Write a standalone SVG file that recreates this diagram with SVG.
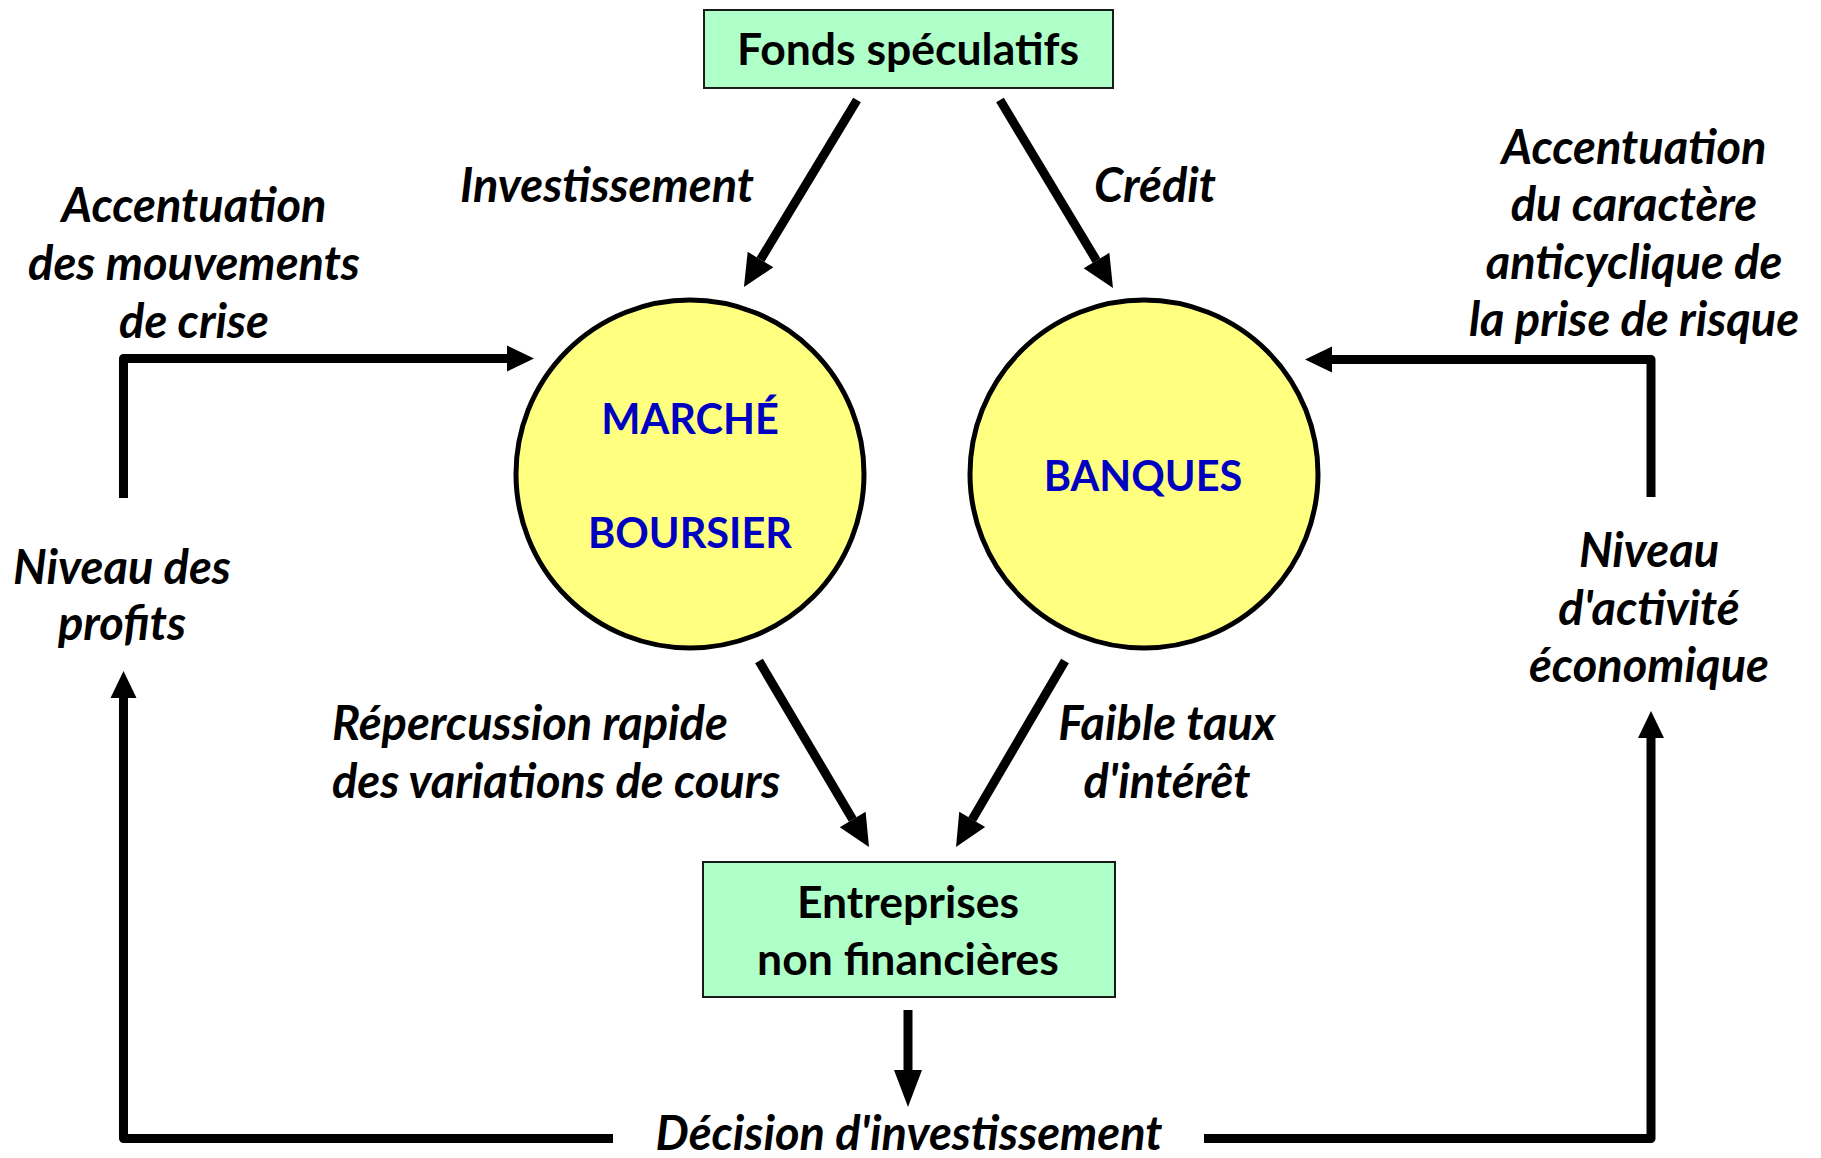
<svg xmlns="http://www.w3.org/2000/svg" width="1821" height="1158" viewBox="0 0 1821 1158">
  <style>
    .box { fill: #AFFFC8; stroke: #1a1a1a; stroke-width: 2; }
    .circ { fill: #FFFF80; stroke: #000; stroke-width: 5; }
    .boxtxt { font-family: Lato, "Open Sans", sans-serif; font-weight: 700; font-size: 44.5px; fill: #000; text-anchor: middle; }
    .ctxt { font-family: Lato, "Open Sans", sans-serif; font-weight: 700; font-size: 41.5px; fill: #0000C0; text-anchor: middle; }
    .lbl { font-family: Lato, "Open Sans", sans-serif; font-weight: 700; font-style: italic; font-size: 47px; fill: #000; text-anchor: middle; }
    .lbl.start { text-anchor: start; }
    .wire { fill: none; stroke: #000; stroke-width: 9; stroke-linejoin: round; stroke-linecap: butt; }
  </style>
  <defs>
    <marker id="headDiag" markerUnits="userSpaceOnUse" markerWidth="34" markerHeight="30" refX="0" refY="15" orient="auto" overflow="visible">
      <path d="M0,0 L32,15 L0,30 Z" fill="#000"/>
    </marker>
    <marker id="headElbow" markerUnits="userSpaceOnUse" markerWidth="28" markerHeight="26" refX="0" refY="13" orient="auto" overflow="visible">
      <path d="M0,0 L27,13 L0,26 Z" fill="#000"/>
    </marker>
    <marker id="headDown" markerUnits="userSpaceOnUse" markerWidth="38" markerHeight="28" refX="0" refY="14" orient="auto" overflow="visible">
      <path d="M0,0 L37,14 L0,28 Z" fill="#000"/>
    </marker>
  </defs>

  <!-- connectors -->
  <g id="connectors">
    <line class="wire" x1="857" y1="100" x2="760.5" y2="259.6" marker-end="url(#headDiag)"/>
    <line class="wire" x1="1000" y1="100" x2="1096.5" y2="260.6" marker-end="url(#headDiag)"/>
    <line class="wire" x1="759" y1="661" x2="852.7" y2="819.5" marker-end="url(#headDiag)"/>
    <line class="wire" x1="1065" y1="661" x2="972.2" y2="819.4" marker-end="url(#headDiag)"/>
    <path class="wire" d="M123.5,498 V358.5 H507" marker-end="url(#headElbow)"/>
    <path class="wire" d="M1651,497 V359.5 H1332" marker-end="url(#headElbow)"/>
    <path class="wire" d="M613,1138.5 H123.5 V698" marker-end="url(#headElbow)"/>
    <path class="wire" d="M1204,1138.5 H1651 V738" marker-end="url(#headElbow)"/>
    <line class="wire" x1="908" y1="1010" x2="908" y2="1070" stroke-width="10" marker-end="url(#headDown)"/>
  </g>

  <!-- nodes -->
  <g id="fonds">
    <rect class="box" x="704" y="10" width="409" height="78"/>
    <text class="boxtxt" x="908" y="65">Fonds spéculatifs</text>
  </g>
  <g id="marche">
    <circle class="circ" cx="690" cy="474" r="174"/>
    <text class="ctxt" x="690" y="434">MARCHÉ</text>
    <text class="ctxt" x="690" y="548">BOURSIER</text>
  </g>
  <g id="banques">
    <circle class="circ" cx="1144" cy="474" r="174"/>
    <text class="ctxt" x="1143" y="491">BANQUES</text>
  </g>
  <g id="entreprises">
    <rect class="box" x="703" y="862" width="412" height="135"/>
    <text class="boxtxt" x="908" y="918">Entreprises</text>
    <text class="boxtxt" x="908" y="975">non financières</text>
  </g>

  <!-- labels -->
  <g id="labels">
    <text class="lbl" x="607" y="202">Investissement</text>
    <text class="lbl" x="1155" y="202">Crédit</text>
    <text class="lbl" x="194" y="222">Accentuation</text>
    <text class="lbl" x="194" y="280">des mouvements</text>
    <text class="lbl" x="194" y="338">de crise</text>
    <text class="lbl" x="122" y="584">Niveau des</text>
    <text class="lbl" x="122" y="640">profits</text>
    <text class="lbl" x="1634" y="164">Accentuation</text>
    <text class="lbl" x="1634" y="221">du caractère</text>
    <text class="lbl" x="1634" y="279">anticyclique de</text>
    <text class="lbl" x="1634" y="336">la prise de risque</text>
    <text class="lbl" x="1649" y="567">Niveau</text>
    <text class="lbl" x="1649" y="625">d'activité</text>
    <text class="lbl" x="1649" y="682">économique</text>
    <text class="lbl start" x="332" y="740">Répercussion rapide</text>
    <text class="lbl start" x="332" y="798">des variations de cours</text>
    <text class="lbl" x="1167" y="740">Faible taux</text>
    <text class="lbl" x="1167" y="798">d'intérêt</text>
    <text class="lbl" x="909" y="1150">Décision d'investissement</text>
  </g>
</svg>
